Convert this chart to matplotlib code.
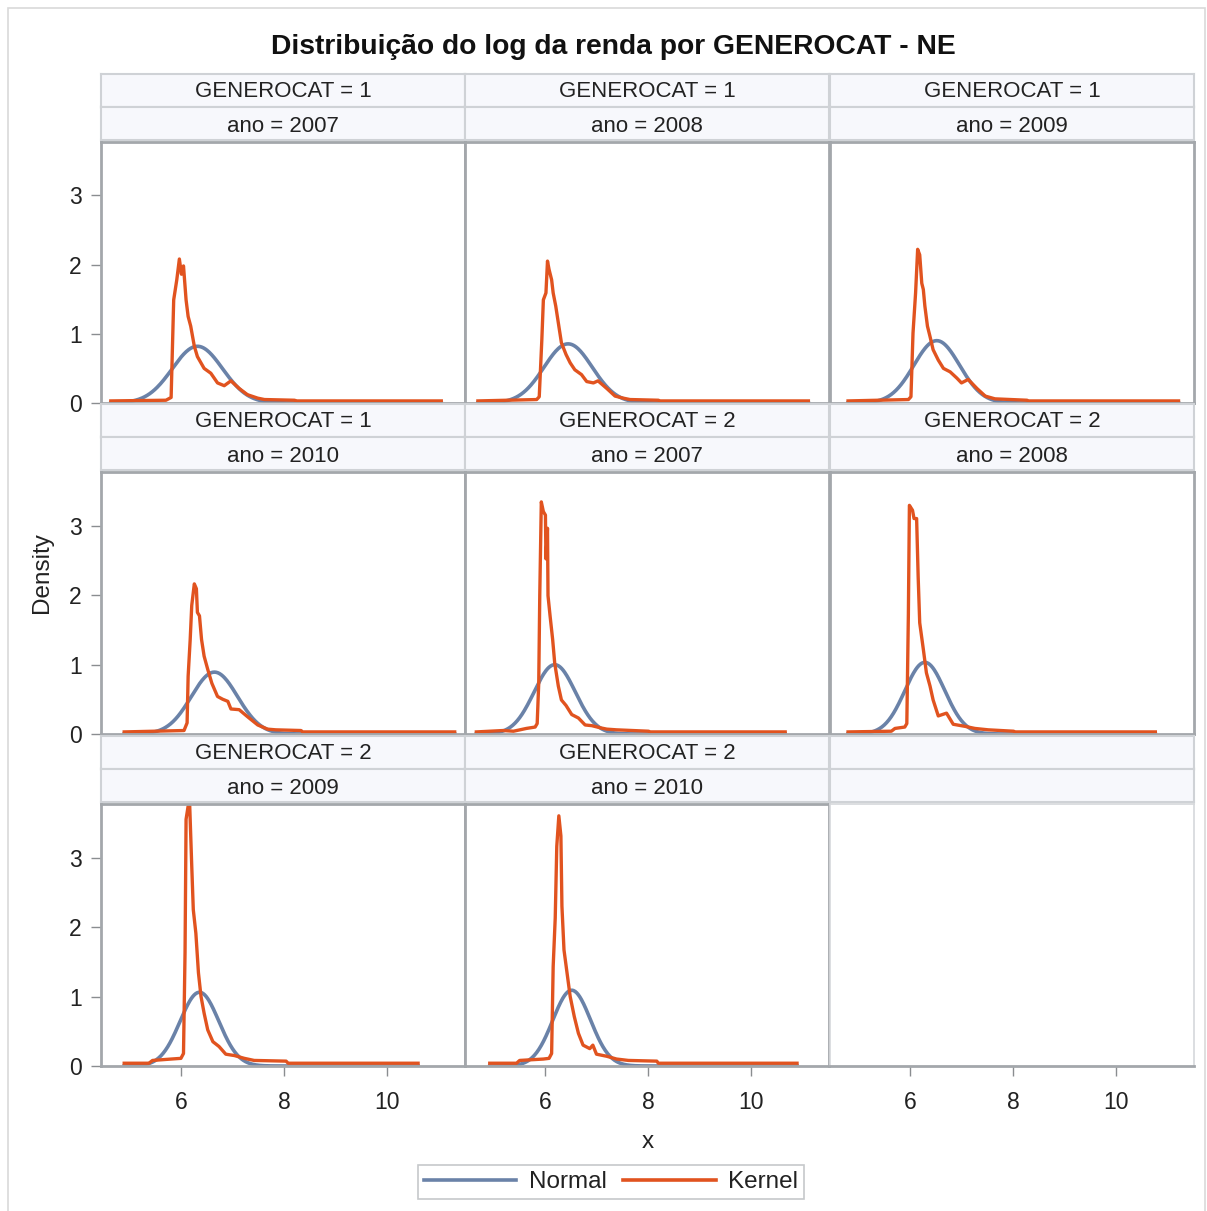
import numpy as np
import matplotlib.pyplot as plt
from matplotlib.patches import Rectangle
from matplotlib.lines import Line2D

plt.rcParams['font.family'] = ['Liberation Sans', 'DejaVu Sans']

W, H = 1207, 1211

generocat = [1, 1, 1, 1, 2, 2, 2, 2]
anos = [2007, 2008, 2009, 2010, 2007, 2008, 2009, 2010]

# fitted normal parameters of log income per panel
normal_mean = [6.32, 6.45, 6.52, 6.65, 6.19, 6.29, 6.36, 6.52]
normal_sd = [0.487, 0.467, 0.443, 0.448, 0.400, 0.387, 0.376, 0.366]

# kernel density estimates per panel
kernel_x = [
    [4.64, 5.71, 5.81, 5.86, 5.92, 5.97, 6.01, 6.05, 6.10, 6.14, 6.19, 6.26, 6.32,
     6.45, 6.58, 6.71, 6.84, 6.97, 7.13, 7.29, 7.49, 7.62, 8.20, 8.25, 11.05],
    [4.70, 5.84, 5.89, 5.94, 5.97, 6.02, 6.05, 6.08, 6.13, 6.16, 6.21, 6.27, 6.32,
     6.41, 6.49, 6.58, 6.71, 6.81, 6.94, 7.03, 7.20, 7.36, 7.52, 7.65, 8.20, 8.23, 11.11],
    [4.80, 5.97, 6.02, 6.06, 6.11, 6.15, 6.19, 6.23, 6.26, 6.29, 6.34, 6.39, 6.45,
     6.55, 6.65, 6.78, 6.91, 7.00, 7.13, 7.30, 7.46, 7.65, 8.27, 8.30, 11.21],
    [4.90, 6.06, 6.12, 6.14, 6.18, 6.21, 6.26, 6.30, 6.32, 6.36, 6.40, 6.45, 6.52,
     6.60, 6.71, 6.81, 6.91, 6.97, 7.13, 7.29, 7.49, 7.68, 7.84, 8.33, 8.36, 11.31],
    [4.67, 5.19, 5.39, 5.64, 5.81, 5.85, 5.88, 5.90, 5.93, 5.97, 6.01, 6.02, 6.05,
     6.06, 6.10, 6.15, 6.19, 6.26, 6.32, 6.41, 6.52, 6.65, 6.78, 6.91, 7.07, 7.20,
     7.39, 8.01, 8.04, 10.66],
    [4.80, 5.64, 5.71, 5.90, 5.94, 5.97, 5.99, 6.05, 6.08, 6.13, 6.16, 6.19, 6.26,
     6.32, 6.39, 6.45, 6.55, 6.71, 6.84, 7.07, 7.26, 7.52, 8.01, 8.04, 10.76],
    [4.90, 5.38, 5.45, 5.81, 6.00, 6.05, 6.08, 6.10, 6.14, 6.17, 6.21, 6.24, 6.29,
     6.34, 6.39, 6.45, 6.52, 6.62, 6.74, 6.87, 7.04, 7.23, 7.42, 8.04, 8.08, 10.60],
    [4.93, 5.45, 5.51, 5.97, 6.08, 6.13, 6.16, 6.20, 6.23, 6.27, 6.31, 6.33, 6.37,
     6.42, 6.49, 6.57, 6.65, 6.74, 6.87, 6.93, 7.00, 7.20, 7.39, 7.62, 8.17, 8.20, 10.89],
]
kernel_y = [
    [0.03, 0.04, 0.08, 1.49, 1.78, 2.08, 1.86, 1.98, 1.49, 1.25, 1.11, 0.82, 0.67,
     0.50, 0.43, 0.29, 0.25, 0.32, 0.21, 0.12, 0.07, 0.05, 0.04, 0.03, 0.03],
    [0.03, 0.05, 0.09, 0.91, 1.49, 1.59, 2.05, 1.93, 1.78, 1.59, 1.40, 1.11, 0.87,
     0.70, 0.58, 0.48, 0.41, 0.31, 0.29, 0.32, 0.21, 0.10, 0.07, 0.05, 0.04, 0.03, 0.03],
    [0.03, 0.05, 0.09, 1.01, 1.59, 2.22, 2.14, 1.73, 1.64, 1.40, 1.11, 0.96, 0.77,
     0.62, 0.50, 0.45, 0.36, 0.29, 0.34, 0.21, 0.10, 0.06, 0.04, 0.03, 0.03],
    [0.03, 0.05, 0.16, 0.83, 1.36, 1.85, 2.16, 2.09, 1.75, 1.70, 1.36, 1.12, 0.93,
     0.73, 0.54, 0.50, 0.47, 0.36, 0.35, 0.25, 0.13, 0.07, 0.06, 0.05, 0.03, 0.03],
    [0.03, 0.05, 0.04, 0.08, 0.10, 0.15, 0.73, 1.99, 3.34, 3.20, 3.15, 2.52, 2.96,
     1.99, 1.70, 1.36, 1.02, 0.69, 0.49, 0.41, 0.28, 0.23, 0.13, 0.12, 0.09, 0.07,
     0.06, 0.04, 0.03, 0.03],
    [0.03, 0.04, 0.08, 0.10, 0.15, 1.72, 3.29, 3.22, 3.10, 3.10, 2.26, 1.60, 1.22,
     0.88, 0.69, 0.49, 0.26, 0.30, 0.14, 0.11, 0.08, 0.06, 0.04, 0.03, 0.03],
    [0.04, 0.04, 0.08, 0.10, 0.11, 0.18, 1.63, 3.55, 3.74, 3.76, 2.88, 2.25, 1.91,
     1.34, 1.00, 0.76, 0.52, 0.35, 0.28, 0.17, 0.15, 0.11, 0.08, 0.07, 0.04, 0.04],
    [0.04, 0.04, 0.08, 0.10, 0.11, 0.18, 1.43, 2.13, 3.16, 3.60, 3.31, 2.30, 1.67,
     1.39, 1.00, 0.71, 0.47, 0.30, 0.25, 0.30, 0.17, 0.14, 0.10, 0.08, 0.07, 0.04, 0.04],
]

NORMAL_COLOR = '#6a82a8'
KERNEL_COLOR = '#e1531f'
FRAME_COLOR = '#a3a7ab'
HEADER_FILL = '#f7f8fc'
HEADER_EDGE = '#cfd2d6'

col_left = [101, 465, 830]
col_w = 364
row_top = [142, 472, 804]
row_bot = [403, 734, 1066]
head_top = [74, 404, 736]
head_h = 33


def px_axes(x0, y0, x1, y1):
    return fig.add_axes([x0 / W, 1 - y1 / H, (x1 - x0) / W, (y1 - y0) / H])


fig = plt.figure(figsize=(W / 100, H / 100), dpi=100)

# outer border
fig.patches.append(Rectangle((8 / W, -0.01), (1205 - 8) / W, 1 - 8 / H + 0.01,
                             transform=fig.transFigure, fill=False,
                             edgecolor='#d9d9d9', linewidth=1.2))

fig.text(613 / W, 1 - 47 / H, 'Distribuição do log da renda por GENEROCAT - NE',
         ha='center', va='center', fontsize=20.3, fontweight='bold', color='#111111')

for k in range(9):
    r, c = divmod(k, 3)
    x0 = col_left[c]
    x1 = x0 + col_w

    # two header rows per cell
    labels = ['', '']
    if k < 8:
        labels = [f'GENEROCAT = {generocat[k]}', f'ano = {anos[k]}']
    for j in range(2):
        hy0 = head_top[r] + j * head_h
        hax = px_axes(x0, hy0, x1, hy0 + head_h)
        hax.set_facecolor(HEADER_FILL)
        hax.set_xticks([])
        hax.set_yticks([])
        for s in hax.spines.values():
            s.set_color(HEADER_EDGE)
            s.set_linewidth(1.5)
        hax.text(0.5, 0.46 - 0.04 * j, labels[j], ha='center', va='center',
                 fontsize=16, color='#222222', transform=hax.transAxes)

    ax = px_axes(x0, row_top[r], x1, row_bot[r])
    ax.set_xlim(4.45, 11.51)
    ax.set_ylim(0, 3.77)
    for s in ax.spines.values():
        s.set_color(FRAME_COLOR)
        s.set_linewidth(2)

    if k < 8:
        kx = np.array(kernel_x[k])
        xs = np.linspace(kx[0], kx[-1], 400)
        mu, sd = normal_mean[k], normal_sd[k]
        dens = np.exp(-0.5 * ((xs - mu) / sd) ** 2) / (sd * np.sqrt(2 * np.pi))
        ax.plot(xs, dens, color=NORMAL_COLOR, linewidth=2.6)
        ax.plot(kx, kernel_y[k], color=KERNEL_COLOR, linewidth=2.4)
    else:
        for side in ['left', 'top', 'right']:
            ax.spines[side].set_color('#d6d8db')
            ax.spines[side].set_linewidth(1.2)

    ax.tick_params(length=7, width=1, color='#8a8d90', labelsize=16.5,
                   labelcolor='#222222', pad=7)
    if c == 0:
        ax.set_yticks([0, 1, 2, 3])
    else:
        ax.set_yticks([])
    if r == 2:
        ax.set_xticks([6, 8, 10])
        ax.tick_params(axis='x', pad=11)
    else:
        ax.set_xticks([])

fig.text(648 / W, 1 - 1142 / H, 'x', ha='center', va='center',
         fontsize=17.5, color='#222222')
fig.text(42 / W, 1 - 573 / H, 'Density', ha='center', va='center',
         rotation=90, fontsize=17.5, color='#222222')

handles = [Line2D([], [], color=NORMAL_COLOR, linewidth=2.6),
           Line2D([], [], color=KERNEL_COLOR, linewidth=2.6)]
leg = fig.legend(handles, ['Normal', 'Kernel'], loc='center',
                 bbox_to_anchor=(611 / W, 1 - 1182 / H), ncol=2, fontsize=17.5,
                 frameon=True, fancybox=False, handlelength=3.8,
                 handletextpad=0.5, columnspacing=0.7, borderpad=0.25)
leg.get_frame().set_edgecolor('#b8bbbe')
leg.get_frame().set_linewidth(1.2)
for t in leg.get_texts():
    t.set_color('#222222')

fig.savefig('out.png', dpi=100, facecolor='white')
